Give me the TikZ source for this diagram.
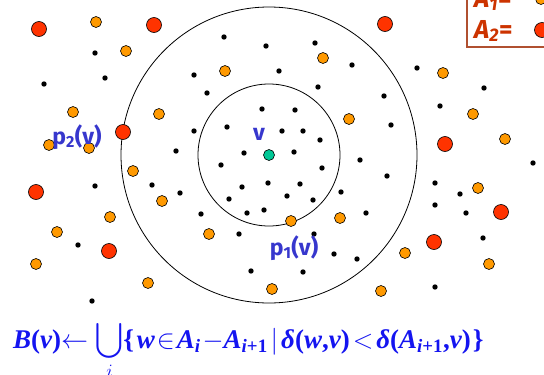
\RequirePackage{fix-cm}
\documentclass[tikz,border=0pt]{standalone}
\usepackage{exscale}
\usepackage{fontspec}
\newfontfamily\comicfont{Fira Sans}
\newfontfamily\fmlfont{Liberation Serif}
\definecolor{dotorange}{RGB}{255,153,0}
\definecolor{dotred}{RGB}{255,51,0}
\definecolor{dotgreen}{RGB}{0,200,150}
\definecolor{lblblue}{RGB}{55,55,205}
\definecolor{fmlblue}{RGB}{20,20,240}
\definecolor{legred}{RGB}{204,51,0}
\definecolor{legbox}{RGB}{176,80,48}
\newcommand\fbi[1]{{\fmlfont\bfseries\itshape #1}}
\newcommand\fbu[1]{{\fmlfont\bfseries #1}}
\newcommand\ballformula{\fbi{B}\fbu{(}\fbi{v}\fbu{)}$\leftarrow\displaystyle\bigcup_i$\fbu{\{}\kern3pt\fbi{w}\kern2pt$\in$\kern2pt\fbi{A}\textsubscript{\fbi{i}}\kern2pt$-$\fbi{A}\textsubscript{\fbi{i}\fbu{+1}}\kern3pt$\vert$\kern3pt\fbi{δ}\fbu{(}\fbi{w}\fbu{,}\fbi{v}\fbu{)}\kern3pt$<$\kern3pt\fbi{δ}\fbu{(}\fbi{A}\textsubscript{\fbi{i}\fbu{+1}}\fbu{,}\fbi{v}\fbu{)}\kern2pt\fbu{\}}}
\tikzset{
  bdot/.style={circle,fill=black,inner sep=0pt,minimum size=5.4pt},
  odot/.style={circle,draw=black,line width=0.6pt,fill=dotorange,inner sep=0pt,minimum size=11pt},
  rdot/.style={circle,draw=black,line width=0.6pt,fill=dotred,inner sep=0pt,minimum size=15pt},
  gdot/.style={circle,draw=black,line width=0.6pt,fill=dotgreen,inner sep=0pt,minimum size=11pt},
  plabel/.style={text=lblblue,font=\comicfont\bfseries\fontsize{23}{26}\selectfont,inner sep=0pt},
  legtext/.style={text=legred,font=\comicfont\bfseries\fontsize{26}{30}\selectfont,inner sep=0pt},
  fmltext/.style={text=fmlblue,font=\fmlfont\fontsize{27}{30}\selectfont,inner sep=0pt}
}
\begin{document}
\begin{tikzpicture}[x=1pt,y=-1pt]
\useasboundingbox (0,0) rectangle (544,375);
\clip (0,0) rectangle (544,375);

% the point v and its two balls
\node[gdot] (v) at (269,155) {};
\draw[line width=0.8pt] (v.center) circle (71pt);
\draw[line width=0.8pt] (v.center) circle (148pt);

% points of A_0 - A_1
\foreach \x/\y [count=\k] in {95/53,44/84,105/78,224/37,266/46,194/75,207/93,262/109,
    227/127,194/131,176/151,244/153,221/165,95/186,152/185,242/187,268/183,315/43,
    279/71,352/65,417/68,318/87,384/96,484/88,440/106,295/110,391/125,282/131,
    303/131,320/140,294/152,360/160,322/168,533/163,387/176,300/184,435/183,
    341/192,180/193,229/199,201/214,247/213,264/210,78/245,239/234,251/271,
    92/301,287/196,313/200,366/213,314/234,334/254,357/259,303/272,435/205,
    466/213,460/194,483/238,435/287}
    \node[bdot] (b\k) at (\x,\y) {};

% points of A_1
\foreach \x/\y [count=\k] in {96/22,126/51,225/71,73/112,159/114,49/145,89/148,
    133/171,323/58,443/73,473/114,349/119,505/139,478/188,162/201,110/217,
    57/232,209/234,36/264,148/283,272/289,291/221,340/218,381/291,405/253,489/264}
    \node[odot] (o\k) at (\x,\y) {};

% points of A_2
\foreach \x/\y [count=\k] in {39/29,154/25,385/24,123/132,445/144,36/192,
    109/251,434/242,501/212}
    \node[rdot] (r\k) at (\x,\y) {};

% labels
\node[plabel] (lv) at (259,134) {v};
\node[plabel] (lp2) at (77,137) {p\textsubscript{2}(v)};
\node[plabel] (lp1) at (294,248) {p\textsubscript{1}(v)};

% legend (cut by the frame)
\draw[legbox,line width=1.4pt] (467,-40) rectangle (600,47);
\node[legtext,anchor=base west] (la1) at (474,7) {\itshape A\textsubscript{1}\upshape=};
\node[legtext,anchor=base west] (la2) at (474,38) {\itshape A\textsubscript{2}\upshape=};
\node[odot] (lo) at (541,-1) {};
\node[rdot] (lr) at (542,30) {};

% formula
\node[fmltext,anchor=base west] (fml) at (13,348) {\ballformula};
\end{tikzpicture}
\end{document}
